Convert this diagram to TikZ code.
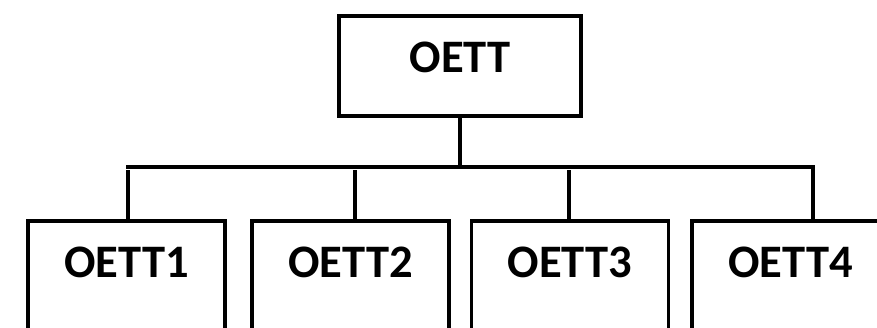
\documentclass[tikz,border=0pt]{standalone}
\usepackage{fontspec}
\setmainfont{Carlito}
\begin{document}
\begin{tikzpicture}[x=0.02cm,y=0.02cm,line cap=rect,
  font=\bfseries\fontsize{26.5}{30}\selectfont,
  box/.style={draw,line width=1.9pt,inner sep=0pt,text height=1.14cm,anchor=base},
  leaf/.style={box,minimum width=3.94cm,text depth=2cm},
  link/.style={line width=1.9pt}]
\useasboundingbox (0,0) rectangle (877,328);
\clip (0,0) rectangle (877,328);
% boxes
\node[box,minimum width=4.84cm,text depth=0.86cm] (oett) at (460,255) {OETT};
\node[leaf] (oett1) at (126.5,50) {OETT1};
\node[leaf] (oett2) at (350.5,50) {OETT2};
\node[leaf] (oett3) at (570,50) {OETT3};
\node[leaf] (oett4) at (790.5,50) {OETT4};
% bus
\coordinate (busl) at (128,161);
\coordinate (busr) at (813,161);
\coordinate (d1) at (128,156);
\coordinate (d2) at (355,156);
\coordinate (d3) at (569,156);
\draw[link] (oett.south) -- (oett.south |- busl);
\draw[link] (busl) -- (busr) -- (busr |- oett4.north);
\draw[link] (d1) -- (d1 |- oett1.north);
\draw[link] (d2) -- (d2 |- oett2.north);
\draw[link] (d3) -- (d3 |- oett3.north);
\end{tikzpicture}
\end{document}
